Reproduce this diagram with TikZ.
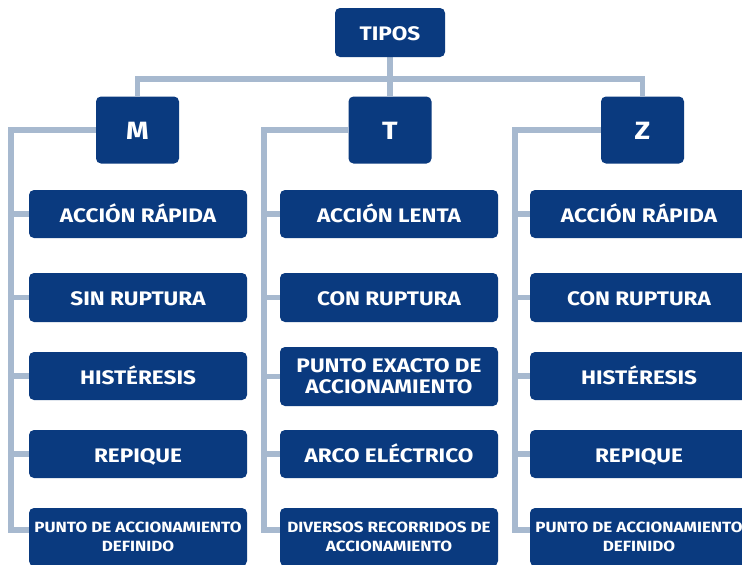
\documentclass[tikz,border=0pt]{standalone}
\usepackage{fontspec}
\setmainfont{Fira Sans}[FakeStretch=1.15]
\usetikzlibrary{backgrounds}
\definecolor{boxblue}{HTML}{0A3A7F}
\definecolor{linegray}{HTML}{A7B9CF}
\tikzset{
  box/.style={fill=boxblue, rounded corners=5pt, text=white, font=\bfseries\fontsize{19.6}{21}\selectfont, align=center, inner sep=0pt, text height=16.5pt, text depth=0pt},
  top/.style={box, minimum width=110pt, minimum height=49pt},
  typ/.style={box, minimum width=83pt, minimum height=67pt, font=\bfseries\fontsize{25}{26}\selectfont, text height=19pt},
  item/.style={box, minimum width=218pt, minimum height=48pt},
  multi/.style={text height={}, text depth={}},
  small/.style={multi, font=\bfseries\fontsize{14.8}{19.5}\selectfont},
  conn/.style={draw=linegray, line width=5.5pt}
}
\begin{document}
\begin{tikzpicture}[x=1pt,y=-1pt]
\clip (0,0) rectangle (742,565);
\node[top] (tipos) at (390,32.5) {TIPOS};
\node[typ] (M) at (137.5,130) {M};
\node[typ] (T) at (390,130) {T};
\node[typ] (Z) at (642.5,130) {Z};
% M column
\node[item] (m1) at (138,214) {ACCIÓN RÁPIDA};
\node[item, minimum height=49pt] (m2) at (138,297.5) {SIN RUPTURA};
\node[item] (m3) at (138,376) {HISTÉRESIS};
\node[item] (m4) at (138,454) {REPIQUE};
\node[item, small, minimum height=58pt] (m5) at (138,537) {PUNTO DE ACCIONAMIENTO\\DEFINIDO};
% T column
\node[item] (t1) at (389,214) {ACCIÓN LENTA};
\node[item, minimum height=49pt] (t2) at (389,297.5) {CON RUPTURA};
\node[item, multi, minimum height=59pt] (t3) at (389,376.5) {PUNTO EXACTO DE\\ACCIONAMIENTO};
\node[item] (t4) at (389,454) {ARCO ELÉCTRICO};
\node[item, small, minimum height=58pt] (t5) at (389,537) {DIVERSOS RECORRIDOS DE\\ACCIONAMIENTO};
% Z column
\node[item] (z1) at (639,214) {ACCIÓN RÁPIDA};
\node[item, minimum height=49pt] (z2) at (639,297.5) {CON RUPTURA};
\node[item] (z3) at (639,376) {HISTÉRESIS};
\node[item] (z4) at (639,454) {REPIQUE};
\node[item, small, minimum height=58pt] (z5) at (639,537) {PUNTO DE ACCIONAMIENTO\\DEFINIDO};
\coordinate (bar) at (390,79);
\coordinate (lM) at (11,530);
\coordinate (lT) at (264,530);
\coordinate (lZ) at (515,530);
\begin{pgfonlayer}{background}
\fill[white] (0,0) rectangle (742,565);
\draw[conn] (tipos.south) -- (bar) -| (M.north);
\draw[conn] (bar) -| (Z.north);
\draw[conn] (tipos) -- (T);
\draw[conn] (M.west) -| (lM) -- (lM -| m5.west);
\draw[conn] (T.west) -| (lT) -- (lT -| t5.west);
\draw[conn] (Z.west) -| (lZ) -- (lZ -| z5.west);
\foreach \n in {m1,m2,m3,m4} \draw[conn] (\n.west) -- (\n.west -| lM);
\foreach \n in {t1,t2,t3,t4} \draw[conn] (\n.west) -- (\n.west -| lT);
\foreach \n in {z1,z2,z3,z4} \draw[conn] (\n.west) -- (\n.west -| lZ);
\end{pgfonlayer}
\end{tikzpicture}
\end{document}
